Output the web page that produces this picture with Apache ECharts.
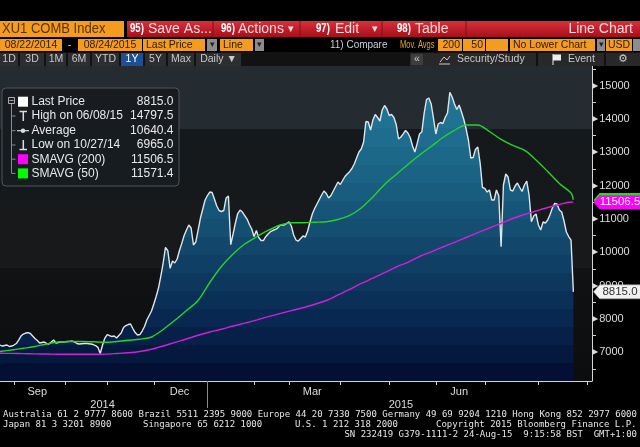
<!DOCTYPE html>
<html><head><meta charset="utf-8">
<script src="https://cdn.jsdelivr.net/npm/echarts@6/dist/echarts.min.js"></script>
<style>html,body{margin:0;padding:0;background:#000;}#c{width:640px;height:447px;}</style>
</head><body><div id="c"></div>
<script>
// ================= DATA =================
const START_DATE = '2014-08-22';
const AXIS_END_DATE = '2015-09-03';
const HOLIDAYS = ['2014-10-01','2014-10-02','2014-10-03','2014-10-06','2014-10-07',
  '2015-01-01','2015-01-02','2015-02-18','2015-02-19','2015-02-20','2015-02-23','2015-02-24',
  '2015-04-06','2015-05-01','2015-06-22'];
const MONTH_NAMES = ['Jan','Feb','Mar','Apr','May','Jun','Jul','Aug','Sep','Oct','Nov','Dec'];
const LABEL_MONTHS = ['Sep','Dec','Mar','Jun'];

// Last price, one value per trading day (08/22/2014 .. 08/24/2015)
const PRICE = [
  7220, 7190, 7205, 7220, 7175, 7190, 7220, 7265, 7370, 7490,
  7550, 7580, 7590, 7565, 7490, 7415, 7355, 7280, 7295, 7310,
  7270, 7250, 7310, 7370, 7280, 7295, 7320, 7310, 7320, 7325,
  7330, 7340, 7310, 7265, 7250, 7260, 7265, 7270, 7260, 7250,
  7235, 7205, 7150, 6965, 7220, 7430, 7535, 7505, 7475, 7490,
  7430, 7505, 7580, 7745, 7805, 7835, 7850, 7715, 7595, 7520,
  7535, 7640, 7775, 7970, 8105, 8240, 8450, 8675, 8930, 9290,
  9680, 10150, 10050, 9520, 9740, 9680, 9800, 10055, 10270, 10505,
  10670, 10820, 10730, 10220, 10310, 10670, 11030, 11300, 11570, 11705,
  11810, 11795, 11600, 11390, 11255, 11225, 11255, 11630, 11690, 10230,
  10550, 10880, 11165, 11270, 11210, 11105, 11000, 10835, 10700, 10475,
  10655, 10445, 10355, 10355, 10470, 10550, 10620, 10655, 10685, 10720,
  10805, 10820, 10820, 10865, 10915, 10790, 10520, 10370, 10340, 10415,
  10490, 10460, 10640, 10910, 11150, 11315, 11450, 11585, 11720, 11840,
  11765, 11630, 11705, 11840, 11975, 12110, 12035, 12155, 12275, 12350,
  12420, 12515, 12650, 12830, 13010, 13100, 13310, 13925, 13910, 13670,
  13970, 14135, 14045, 13940, 14270, 14405, 14300, 14105, 14135, 14045,
  13835, 13400, 13460, 13555, 13655, 13580, 13445, 13190, 13010, 13270,
  13550, 13615, 14180, 14585, 14630, 14450, 14015, 13550, 13850, 13895,
  13865, 14045, 14180, 14797.5, 14660, 14450, 14285, 14420, 14210, 13985,
  13700, 13355, 12830, 12845, 13085, 13160, 12680, 11945, 11920, 11810,
  11870, 11570, 11570, 11870, 11700, 10170, 12020, 12350, 12260, 11870,
  11840, 11990, 12080, 11945, 11825, 12020, 12140, 11720, 10920, 11090,
  11150, 10820, 10670, 10910, 10880, 10970, 11135, 11330, 11470, 11450,
  11270, 11210, 10940, 10610, 10475, 10370, 8815
];
// Moving averages read every 5th trading day, plus the final day
const SMA_STEP = 5;
const SMA50 = [
  7026, 7071, 7122, 7176, 7251, 7311, 7326, 7326, 7317, 7302,
  7326, 7362, 7395, 7461, 7686, 7962, 8256, 8556, 9096, 9576,
  9951, 10251, 10461, 10656, 10812, 10890, 10890, 10905, 10920, 10986,
  11106, 11331, 11661, 12036, 12336, 12636, 12921, 13176, 13446, 13662,
  13821, 13821, 13626, 13386, 13206, 13065, 12771, 12426, 12066, 11781,
  11571.4
];
const SMA200 = [
  6972, 6969, 6963, 6954, 6951, 6945, 6942, 6942, 6942, 6948,
  6966, 6987, 7026, 7095, 7191, 7299, 7401, 7512, 7611, 7692,
  7791, 7875, 7968, 8070, 8163, 8250, 8337, 8442, 8556, 8721,
  8886, 9066, 9225, 9390, 9561, 9702, 9876, 10017, 10161, 10302,
  10446, 10590, 10731, 10872, 11016, 11136, 11241, 11346, 11436, 11511,
  11506.5
];
const Y_MIN = 6141, Y_MAX = 15590;
const Y_LABELS = [7000, 8000, 9000, 10000, 11000, 12000, 13000, 14000, 15000];
const Y_MINOR = [6500, 7500, 8500, 9500, 10500, 11500, 12500, 13500, 14500, 15500];
const LEGEND_LABELS = ['Last Price', 'High on 06/08/15', 'Average', 'Low on 10/27/14', 'SMAVG (200)', 'SMAVG (50)'];
const LEGEND_VALUES = ['8815.0', '14797.5', '10640.4', '6965.0', '11506.5', '11571.4'];

// ================= BUILD =================
function buildDays() {
  const out = [], hol = new Set(HOLIDAYS);
  let d = new Date(START_DATE + 'T00:00:00Z');
  const end = new Date(AXIS_END_DATE + 'T00:00:00Z');
  while (d <= end) {
    const w = d.getUTCDay(), s = d.toISOString().slice(0, 10);
    if (w !== 0 && w !== 6 && !hol.has(s)) out.push(s);
    d = new Date(d.getTime() + 86400000);
  }
  return out;
}
const DAYS = buildDays();
const LAST = DAYS.length - 1;
const monthOf = s => s.slice(0, 7);
const monthStart = new Set(), monthMid = new Set(), yearStart = new Set(), yearMid = new Set();
(function () {
  const groups = {}, ygroups = {};
  DAYS.forEach((s, i) => {
    const m = monthOf(s), y = s.slice(0, 4);
    (groups[m] = groups[m] || []).push(i);
    (ygroups[y] = ygroups[y] || []).push(i);
    if (i > 0 && monthOf(DAYS[i - 1]) !== m) monthStart.add(i);
    if (i > 0 && DAYS[i - 1].slice(0, 4) !== y) yearStart.add(i);
  });
  Object.keys(groups).forEach(m => {
    const idx = groups[m];
    const name = MONTH_NAMES[+m.slice(5, 7) - 1];
    if (idx.length >= 15 && LABEL_MONTHS.includes(name)) monthMid.add(idx[Math.floor((idx.length - 1) / 2)]);
  });
  Object.keys(ygroups).forEach(y => { const idx = ygroups[y]; yearMid.add(idx[Math.floor(idx.length / 2)]); });
})();
const smaPairs = arr => arr.map((v, k) => [k === arr.length - 1 ? PRICE.length - 1 : k * SMA_STEP, v]);

function hex(c){return [parseInt(c.slice(1,3),16),parseInt(c.slice(3,5),16),parseInt(c.slice(5,7),16)];}
function sampleKeys(keys, t){
  for (let k = 0; k < keys.length - 1; k++) {
    const [o1, c1] = keys[k], [o2, c2] = keys[k + 1];
    if (t >= o1 && t <= o2) {
      const f = (t - o1) / (o2 - o1), a = hex(c1), b = hex(c2);
      return 'rgb(' + a.map((v, j) => Math.round(v + (b[j] - v) * f)).join(',') + ')';
    }
  }
  return keys[keys.length - 1][1];
}
function banded(keys, n){
  const stops = [];
  for (let k = 0; k < n; k++) {
    const c = sampleKeys(keys, (k + 0.5) / n);
    stops.push({offset: k / n, color: c}, {offset: (k + 1) / n, color: c});
  }
  return {type: 'linear', x: 0, y: 0, x2: 0, y2: 1, colorStops: stops};
}
const AREA_FILL = banded([[0, '#23799a'], [0.3, '#1a6283'], [0.55, '#114468'], [0.8, '#08264f'], [1, '#020b2e']], 16);
const PLOT_BG = {type: 'linear', x: 0, y: 0, x2: 0, y2: 1, colorStops: [
  {offset: 0, color: '#242b31'}, {offset: 0.2, color: '#242b31'},
  {offset: 0.2, color: '#16191c'}, {offset: 0.43, color: '#16191c'},
  {offset: 0.43, color: '#17191b'}, {offset: 0.64, color: '#17191b'},
  {offset: 0.64, color: '#111213'}, {offset: 1, color: '#0c0d0e'}]};

// ================= GRAPHICS (UI chrome) =================
const G = [];
const SANS = '"Liberation Sans", Arial, sans-serif';
function R(x, y, w, h, fill, extra) { G.push(Object.assign({type: 'rect', z: 100, silent: true, shape: {x, y, width: w, height: h}, style: {fill}}, extra || {})); }
function T(x, y, text, o) {
  o = o || {};
  G.push({type: 'text', x, y, z: 101, silent: true, scaleX: o.sx || 1, style: {text, fill: o.fill || '#ddd', font: o.font || ('11px ' + SANS),
    align: o.align || 'left', verticalAlign: 'middle', textAlign: o.align || 'left', textVerticalAlign: 'middle'}});
}
function L(x1, y1, x2, y2, stroke, w) { G.push({type: 'line', z: 101, silent: true, shape: {x1, y1, x2, y2}, style: {stroke, lineWidth: w || 1}}); }
const OR = '#f39c1f', DARK = '#2e1b05';
// Row 1
R(0, 21, 124, 16, OR);
T(2, 29, 'XU1 COMB Index', {fill: '#5a3306', font: '14px ' + SANS, sx: 0.93});
R(127, 21, 513, 16, {type: 'linear', x: 0, y: 0, x2: 0, y2: 1, colorStops: [{offset: 0, color: '#d8303a'}, {offset: 1, color: '#a60f1b'}]});
[213, 300, 382, 466].forEach(x => L(x, 21, x, 37, '#8a0c16'));
const RF = '#f7dada', F14 = '14px ' + SANS, B13 = 'bold 12px ' + SANS;
T(130, 29, '95)', {fill: '#fff', font: B13, sx: 0.8}); T(148, 29, 'Save As...', {fill: RF, font: F14});
T(221, 29, '96)', {fill: '#fff', font: B13, sx: 0.8}); T(238, 29, 'Actions', {fill: RF, font: F14}); T(288, 29, '▾', {fill: RF, font: '11px ' + SANS});
T(316, 29, '97)', {fill: '#fff', font: B13, sx: 0.8}); T(335, 29, 'Edit', {fill: RF, font: F14}); T(372, 29, '▾', {fill: RF, font: '11px ' + SANS});
T(397, 29, '98)', {fill: '#fff', font: B13, sx: 0.8}); T(415, 29, 'Table', {fill: RF, font: F14});
T(633, 29, 'Line Chart', {fill: RF, font: F14, align: 'right'});
// Row 2
const F2 = '10.5px ' + SANS;
R(0, 39, 62, 12, OR); T(31, 45, '08/22/2014', {fill: DARK, font: F2, align: 'center'});
T(69.5, 45, '-', {fill: '#ddd', font: F2, align: 'center'});
R(78, 39, 64, 12, OR); T(110, 45, '08/24/2015', {fill: DARK, font: F2, align: 'center'});
R(143, 39, 62, 12, OR); T(146, 45, 'Last Price', {fill: DARK, font: F2});
R(207, 39, 10, 12, '#8c8c8c'); T(212, 45, '▾', {fill: '#222', font: '9px ' + SANS, align: 'center'});
R(220, 39, 33, 12, OR); T(223, 45, 'Line', {fill: DARK, font: F2});
R(255, 39, 9, 12, '#8c8c8c'); T(259.5, 45, '▾', {fill: '#222', font: '9px ' + SANS, align: 'center'});
T(330, 45, '11) Compare', {fill: '#c9cfdc', font: F2, sx: 0.95});
T(400, 45, 'Mov. Avgs', {fill: '#f0a030', font: F2, sx: 0.72});
R(438, 39, 24, 12, OR); T(460, 45, '200', {fill: DARK, font: F2, align: 'right'});
R(463, 39, 22, 12, OR); T(483, 45, '50', {fill: DARK, font: F2, align: 'right'});
R(486, 39, 22, 12, OR);
R(510, 39, 85, 12, OR); T(513, 45, 'No Lower Chart', {fill: DARK, font: F2});
R(597, 39, 8, 12, '#8c8c8c'); T(601, 45, '▾', {fill: '#222', font: '9px ' + SANS, align: 'center'});
R(606, 39, 26, 12, OR); T(608, 45, 'USD', {fill: DARK, font: F2});
R(633, 39, 7, 12, '#8c8c8c');
// Row 3
R(0, 52, 640, 14, '#121212');
[['1D', 0, 18], ['3D', 20, 24], ['1M', 46, 20], ['6M', 68, 22], ['YTD', 92, 27], ['1Y', 121, 22, 1], ['5Y', 145, 21], ['Max', 168, 26], ['Daily ▼', 196, 45]]
  .forEach(b => { R(b[1], 53, b[2], 13, b[3] ? '#1c4f94' : '#2c2e30'); T(b[1] + b[2] / 2, 59.5, b[0], {fill: b[3] ? '#fff' : '#c8c8c8', font: F2, align: 'center'}); });
R(410, 53, 230, 13, '#282828');
R(411, 54, 12, 11, '#3e3e3e'); T(417, 59.5, '«', {fill: '#ccc', font: F2, align: 'center'});
L(439, 64, 450, 64, '#ccc'); L(440, 62, 444, 57, '#ccc'); L(444, 57, 447, 60, '#ccc'); L(447, 60, 450, 56, '#ccc');
T(457, 59.5, 'Security/Study', {fill: '#c8c8c8', font: F2});
L(537, 53, 537, 66, '#111', 2);
L(553, 54, 553, 65, '#eee'); R(553, 54.5, 8, 6, '#eee');
T(568, 59.5, 'Event', {fill: '#c8c8c8', font: F2});
L(605, 53, 605, 66, '#111', 2);
T(623, 59.5, '⚙', {fill: '#ccc', font: '11px "DejaVu Sans"', align: 'center'});
// Legend box
G.push({type: 'rect', z: 100, silent: true, shape: {x: 2, y: 88, width: 177, height: 98, r: 4}, style: {fill: 'rgba(24,28,32,0.96)', stroke: '#50555a', lineWidth: 1}});
const ROWY = [101.7, 116, 130.7, 145, 159.2, 173.4];
G.push({type: 'rect', z: 101, silent: true, shape: {x: 8.5, y: 97.5, width: 6, height: 6}, style: {fill: 'none', stroke: '#aaa', lineWidth: 1}});
L(9.5, 100.5, 13.5, 100.5, '#aaa'); L(11.5, 104, 11.5, ROWY[5], '#8a8a8a');
ROWY.slice(1).forEach(y => L(11.5, y, 15.5, y, '#8a8a8a'));
R(18, 96.7, 10, 10, '#ffffff', {z: 101});
L(19.5, 111.5, 27, 111.5, '#ddd', 1.5); L(23.3, 111.5, 23.3, 121, '#ddd', 1.5);
L(17, 130.7, 29, 130.7, '#ddd', 1.2); G.push({type: 'circle', z: 102, silent: true, shape: {cx: 23, cy: 130.7, r: 2.2}, style: {fill: '#ddd'}});
L(23.3, 140, 23.3, 149.5, '#ddd', 1.5); L(19.5, 149.5, 27, 149.5, '#ddd', 1.5);
R(18, 154.2, 10, 10, '#ff00ff', {z: 101});
R(18, 168.4, 10, 10, '#00ff00', {z: 101});
LEGEND_LABELS.forEach((s, k) => {
  T(31.5, ROWY[k], s, {fill: '#e8e8e8', font: '12px ' + SANS});
  T(173.5, ROWY[k], LEGEND_VALUES[k], {fill: '#e8e8e8', font: '12px ' + SANS, align: 'right'});
});
// Footer
const MONO = '9px "DejaVu Sans Mono", monospace', FF = '#e6e6e6';
T(3, 414.5, 'Australia 61 2 9777 8600 Brazil 5511 2395 9000 Europe 44 20 7330 7500 Germany 49 69 9204 1210 Hong Kong 852 2977 6000', {fill: FF, font: MONO});
T(3, 424.5, 'Japan 81 3 3201 8900', {fill: FF, font: MONO});
T(143, 424.5, 'Singapore 65 6212 1000', {fill: FF, font: MONO});
T(295, 424.5, 'U.S. 1 212 318 2000', {fill: FF, font: MONO});
T(436, 424.5, 'Copyright 2015 Bloomberg Finance L.P.', {fill: FF, font: MONO});
T(637, 434.5, 'SN 232419 G379-1111-2 24-Aug-15  9:15:58 BST  GMT+1:00', {fill: FF, font: MONO, align: 'right'});

// ================= CHART =================
const TAG = 'path://M0,7L6,0L46,0L46,14L6,14Z';
const axisText = {color: '#dcdcdc', fontSize: 11, fontFamily: SANS};
const chart = echarts.init(document.getElementById('c'), null, {renderer: 'canvas'});
chart.setOption({
  animation: false,
  backgroundColor: '#000',
  grid: {left: -7, right: 48, top: 66, bottom: 66, show: true, backgroundColor: PLOT_BG, borderWidth: 0},
  xAxis: [{
    type: 'category', data: DAYS, boundaryGap: false,
    axisLine: {lineStyle: {color: '#d4d4d4', width: 1}},
    axisTick: {interval: i => monthStart.has(i), length: 4, lineStyle: {color: '#d4d4d4'}},
    axisLabel: Object.assign({interval: i => monthMid.has(i), margin: 5, formatter: v => MONTH_NAMES[+v.slice(5, 7) - 1]}, axisText),
    splitLine: {show: false}
  }, {
    type: 'category', data: DAYS, boundaryGap: false, position: 'bottom',
    axisLine: {show: false},
    axisTick: {interval: i => yearStart.has(i), length: 27, lineStyle: {color: '#8a8a8a'}},
    axisLabel: Object.assign({interval: i => yearMid.has(i), margin: 18, formatter: v => v.slice(0, 4)}, axisText),
    splitLine: {show: false}
  }],
  yAxis: [{
    type: 'value', position: 'right', min: Y_MIN, max: Y_MAX, scale: true,
    axisLine: {show: true, lineStyle: {color: '#d4d4d4'}},
    axisTick: {show: true, customValues: Y_MINOR, length: 4, lineStyle: {color: '#cfcfcf'}},
    axisLabel: {customValues: Y_LABELS, margin: 0, formatter: v => '{t|▶}{v|' + v + '}',
      rich: {t: {fontSize: 8, color: '#dcdcdc', fontFamily: '"DejaVu Sans"', padding: [0, 1, 0, 0]}, v: axisText}},
    splitLine: {show: false}
  }],
  series: [{
    name: 'Last Price', type: 'line', data: PRICE, symbol: 'none', z: 2,
    lineStyle: {color: '#dfe6ea', width: 1.4},
    areaStyle: {origin: 'start', color: AREA_FILL, opacity: 1},
    markPoint: {z: 7, symbol: TAG, symbolSize: [47, 14], symbolOffset: [25, 0], silent: true,
      itemStyle: {color: '#f2f2f2', borderColor: '#999', borderWidth: 0.5},
      label: {show: true, position: 'inside', offset: [3, 0], color: '#333', fontSize: 11.5, fontFamily: SANS, formatter: p => p.value.toFixed(1)},
      data: [{coord: [DAYS[LAST], PRICE[PRICE.length - 1]], value: PRICE[PRICE.length - 1]}]}
  }, {
    name: 'SMAVG (50)', type: 'line', data: smaPairs(SMA50), symbol: 'none', smooth: 0.3, z: 3,
    lineStyle: {color: '#27d22a', width: 1.4},
    markPoint: {z: 5, symbol: TAG, symbolSize: [47, 14], symbolOffset: [25, 0], silent: true,
      itemStyle: {color: '#22dd22'}, label: {show: false},
      data: [{coord: [DAYS[LAST], SMA50[SMA50.length - 1]], value: SMA50[SMA50.length - 1]}]}
  }, {
    name: 'SMAVG (200)', type: 'line', data: smaPairs(SMA200), symbol: 'none', smooth: 0.3, z: 4,
    lineStyle: {color: '#d21fd8', width: 1.4},
    markPoint: {z: 6, symbol: TAG, symbolSize: [47, 14], symbolOffset: [25, 0], silent: true,
      itemStyle: {color: '#ff00ff'},
      label: {show: true, position: 'inside', offset: [3, 0], color: '#ffffff', fontSize: 11.5, fontFamily: SANS, formatter: p => p.value.toFixed(1)},
      data: [{coord: [DAYS[LAST], SMA200[SMA200.length - 1]], value: SMA200[SMA200.length - 1]}]}
  }],
  graphic: {elements: G}
});
</script>
</body></html>
